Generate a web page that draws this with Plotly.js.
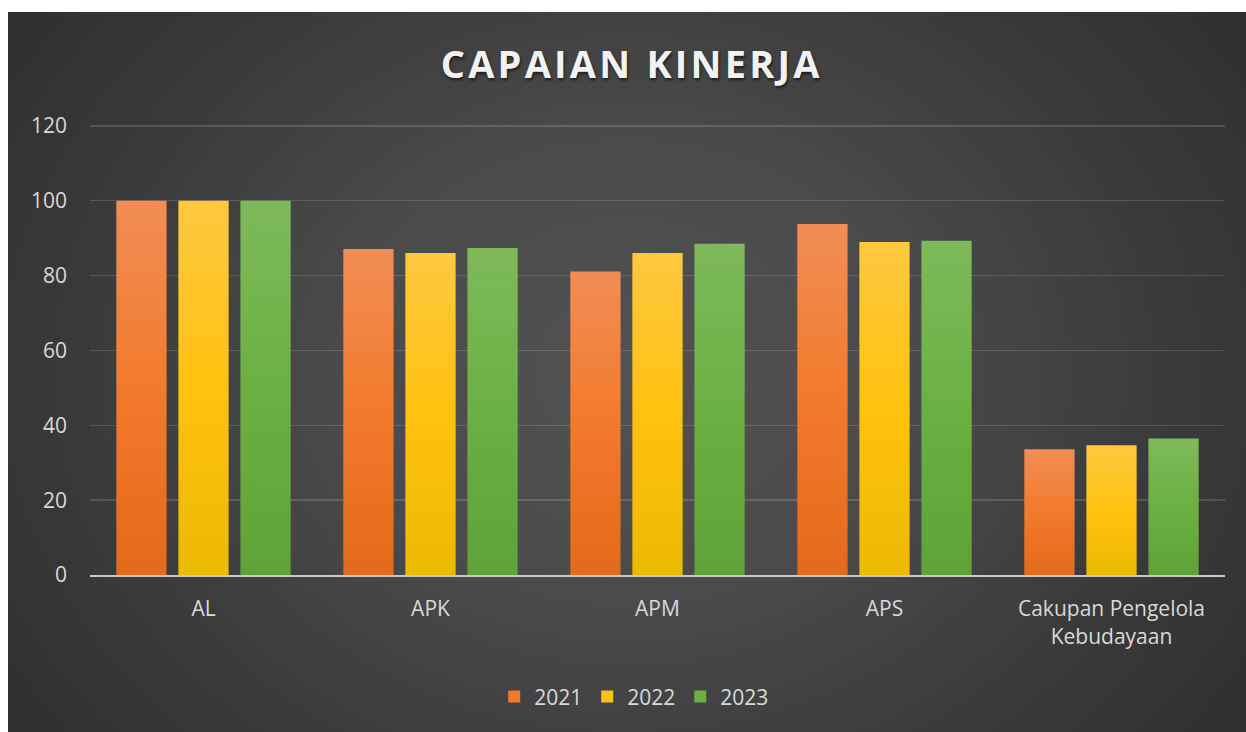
<!DOCTYPE html>
<html>
<head>
<meta charset="utf-8">
<script src="https://cdn.plot.ly/plotly-3.0.1.min.js"></script>
<style>
  html, body { margin:0; padding:0; background:#ffffff; }
  #wrap { position:relative; width:1246px; height:732px; overflow:hidden; }
  #bg { position:absolute; left:8px; top:12px; width:1238px; height:720px;
        background: radial-gradient(ellipse 68% 95% at 50% 50%, #525252 0%, #4a4a4a 35%, #3a3a3a 65%, #2b2b2b 100%); }
  #chart { position:absolute; left:0; top:0; width:1246px; height:732px; }
  .gtitle { letter-spacing: 3.2px; }
</style>
</head>
<body>
<div id="wrap">
  <div id="bg"></div>
  <div id="chart"></div>
</div>
<script>
const categories = ['AL', 'APK', 'APM', 'APS', 'Cakupan Pengelola<br>Kebudayaan'];
const seriesNames = ['2021', '2022', '2023'];
const values2021 = [100, 87.1, 81.1, 93.8, 33.6];
const values2022 = [100, 86.0, 86.0, 89.0, 34.7];
const values2023 = [100, 87.4, 88.5, 89.3, 36.5];
const yTicks = [0, 20, 40, 60, 80, 100, 120];

const baseColors = ['#ee7a2e', '#fbc21a', '#6db042'];
const gradStops = [
  ['#f18d55', '#f27a2c', '#e36a1a'],
  ['#fec840', '#ffc20f', '#ecb903'],
  ['#7eb95a', '#6cb043', '#5fa338']
];

const allValues = [values2021, values2022, values2023];
const traces = seriesNames.map((name, i) => ({
  type: 'bar',
  name: name,
  x: categories,
  y: allValues[i],
  marker: { color: baseColors[i], line: { width: 0 } },
  hoverinfo: 'x+y+name'
}));

const layout = {
  width: 1246,
  height: 732,
  margin: { l: 90, r: 21, t: 124, b: 157 },
  paper_bgcolor: 'rgba(0,0,0,0)',
  plot_bgcolor: 'rgba(0,0,0,0)',
  barmode: 'group',
  bargap: 0.18,
  bargroupgap: 0.19,
  title: {
    text: 'CAPAIAN KINERJA',
    font: { family: 'Open Sans', size: 38, color: '#f2f2f2', weight: 700, shadow: '1px 2px 3px rgba(0,0,0,0.6)' },
    xref: 'container', x: 0.507, xanchor: 'center',
    yref: 'container', y: 0.912, yanchor: 'middle'
  },
  xaxis: {
    type: 'category',
    tickfont: { family: 'Open Sans', size: 21, color: '#d9d9d9' },
    showline: true, linecolor: '#c8c8c8', linewidth: 2,
    ticks: '', showgrid: false, zeroline: false,
    ticklabelstandoff: 14
  },
  yaxis: {
    range: [0, 120.5],
    tickvals: yTicks,
    tickfont: { family: 'Open Sans', size: 21, color: '#d9d9d9' },
    showgrid: true, gridcolor: 'rgba(255,255,255,0.15)', gridwidth: 1.5,
    zeroline: false, showline: false, ticks: '',
    ticklabelstandoff: 22
  },
  legend: {
    orientation: 'h',
    xref: 'container', x: 0.509, xanchor: 'center',
    yref: 'container', y: 0.048, yanchor: 'middle',
    font: { family: 'Open Sans', size: 21, color: '#d9d9d9' },
    bgcolor: 'rgba(0,0,0,0)',
    itemwidth: 30
  },
  showlegend: true
};

Plotly.newPlot('chart', traces, layout, { displayModeBar: false, staticPlot: true }).then(gd => {
  const svg = gd.querySelector('svg.main-svg');
  let defs = svg.querySelector('defs');
  const ns = 'http://www.w3.org/2000/svg';
  gradStops.forEach((stops, i) => {
    const lg = document.createElementNS(ns, 'linearGradient');
    lg.setAttribute('id', 'bargrad' + i);
    lg.setAttribute('x1', '0'); lg.setAttribute('y1', '0');
    lg.setAttribute('x2', '0'); lg.setAttribute('y2', '1');
    [[0, stops[0]], [0.5, stops[1]], [1, stops[2]]].forEach(([o, c]) => {
      const s = document.createElementNS(ns, 'stop');
      s.setAttribute('offset', o);
      s.setAttribute('stop-color', c);
      lg.appendChild(s);
    });
    defs.appendChild(lg);
  });
  gd.querySelectorAll('.barlayer .trace').forEach((tr, i) => {
    tr.querySelectorAll('.point path').forEach(p => {
      p.style.fill = 'url(#bargrad' + i + ')';
    });
  });
});
</script>
</body>
</html>
